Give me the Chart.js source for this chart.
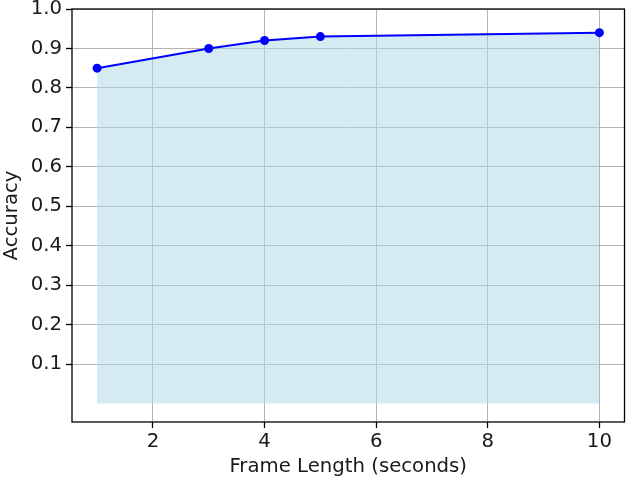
<!DOCTYPE html>
<html>
<head>
  <meta charset="UTF-8">
  <title>Accuracy vs Frame Length</title>
  <script src="https://cdn.jsdelivr.net/npm/chart.js"></script>
  <style>
    html, body { margin: 0; padding: 0; background: #fff; }
    #wrap { width: 629px; height: 484px; }
  </style>
</head>
<body>
  <div id="wrap"><canvas id="chart" width="629" height="484"></canvas></div>

  <script>
    // data
    const frameLengths = [1, 3, 4, 5, 10];
    const accuracy = [0.85, 0.90, 0.92, 0.93, 0.94];
    const xTickValues = [2, 4, 6, 8, 10];
    const yTickValues = [0.1, 0.2, 0.3, 0.4, 0.5, 0.6, 0.7, 0.8, 0.9, 1.0];

    const font = { family: 'DejaVu Sans', size: 19.7 };
    const textColor = '#1a1a1a';

    // black box all round the plot, like matplotlib spines
    const framePlugin = {
      id: 'frame',
      afterDatasetsDraw(chart) {
        const { ctx, chartArea: a } = chart;
        ctx.save();
        ctx.strokeStyle = '#000';
        ctx.lineWidth = 1.3;
        ctx.strokeRect(a.left, a.top, a.right - a.left, a.bottom - a.top);
        ctx.restore();
      }
    };

    new Chart(document.getElementById('chart'), {
      type: 'line',
      data: {
        datasets: [{
          data: frameLengths.map((x, i) => ({ x: x, y: accuracy[i] })),
          borderColor: '#0000ff',
          borderWidth: 2,
          backgroundColor: 'rgba(173,216,230,0.52)',
          fill: 'origin',
          tension: 0,
          pointRadius: 4.5,
          pointBackgroundColor: '#0000ff',
          pointBorderColor: '#0000ff',
          pointBorderWidth: 0
        }]
      },
      options: {
        responsive: false,
        animation: false,
        layout: { padding: { left: 0, top: 9, right: 4, bottom: 0 } },
        plugins: { legend: { display: false }, tooltip: { enabled: false } },
        scales: {
          x: {
            type: 'linear',
            min: 0.55,
            max: 10.45,
            afterBuildTicks: s => { s.ticks = xTickValues.map(v => ({ value: v })); },
            afterFit: s => { s.height = 62; s.paddingLeft = 0; s.paddingRight = 0; },
            grid: { color: '#b4b4b4', lineWidth: 1, tickColor: '#000', tickLength: 6, tickWidth: 1.3 },
            border: { display: false },
            ticks: { font: font, color: textColor, padding: 2, maxRotation: 0 },
            title: { display: true, text: 'Frame Length (seconds)', font: font, color: textColor, padding: { top: 0, bottom: 5 } }
          },
          y: {
            type: 'linear',
            min: -0.047,
            max: 1.0,
            afterBuildTicks: s => { s.ticks = yTickValues.map(v => ({ value: v })); },
            afterFit: s => { s.width = 72; s.paddingTop = 0; s.paddingBottom = 0; },
            grid: { color: '#b4b4b4', lineWidth: 1, tickColor: '#000', tickLength: 6, tickWidth: 1.3 },
            border: { display: false },
            ticks: { font: font, color: textColor, padding: 4, callback: v => v.toFixed(1) },
            title: { display: true, text: 'Accuracy', font: font, color: textColor, padding: { top: 0, bottom: 0 } }
          }
        }
      },
      plugins: [framePlugin]
    });
  </script>
</body>
</html>
